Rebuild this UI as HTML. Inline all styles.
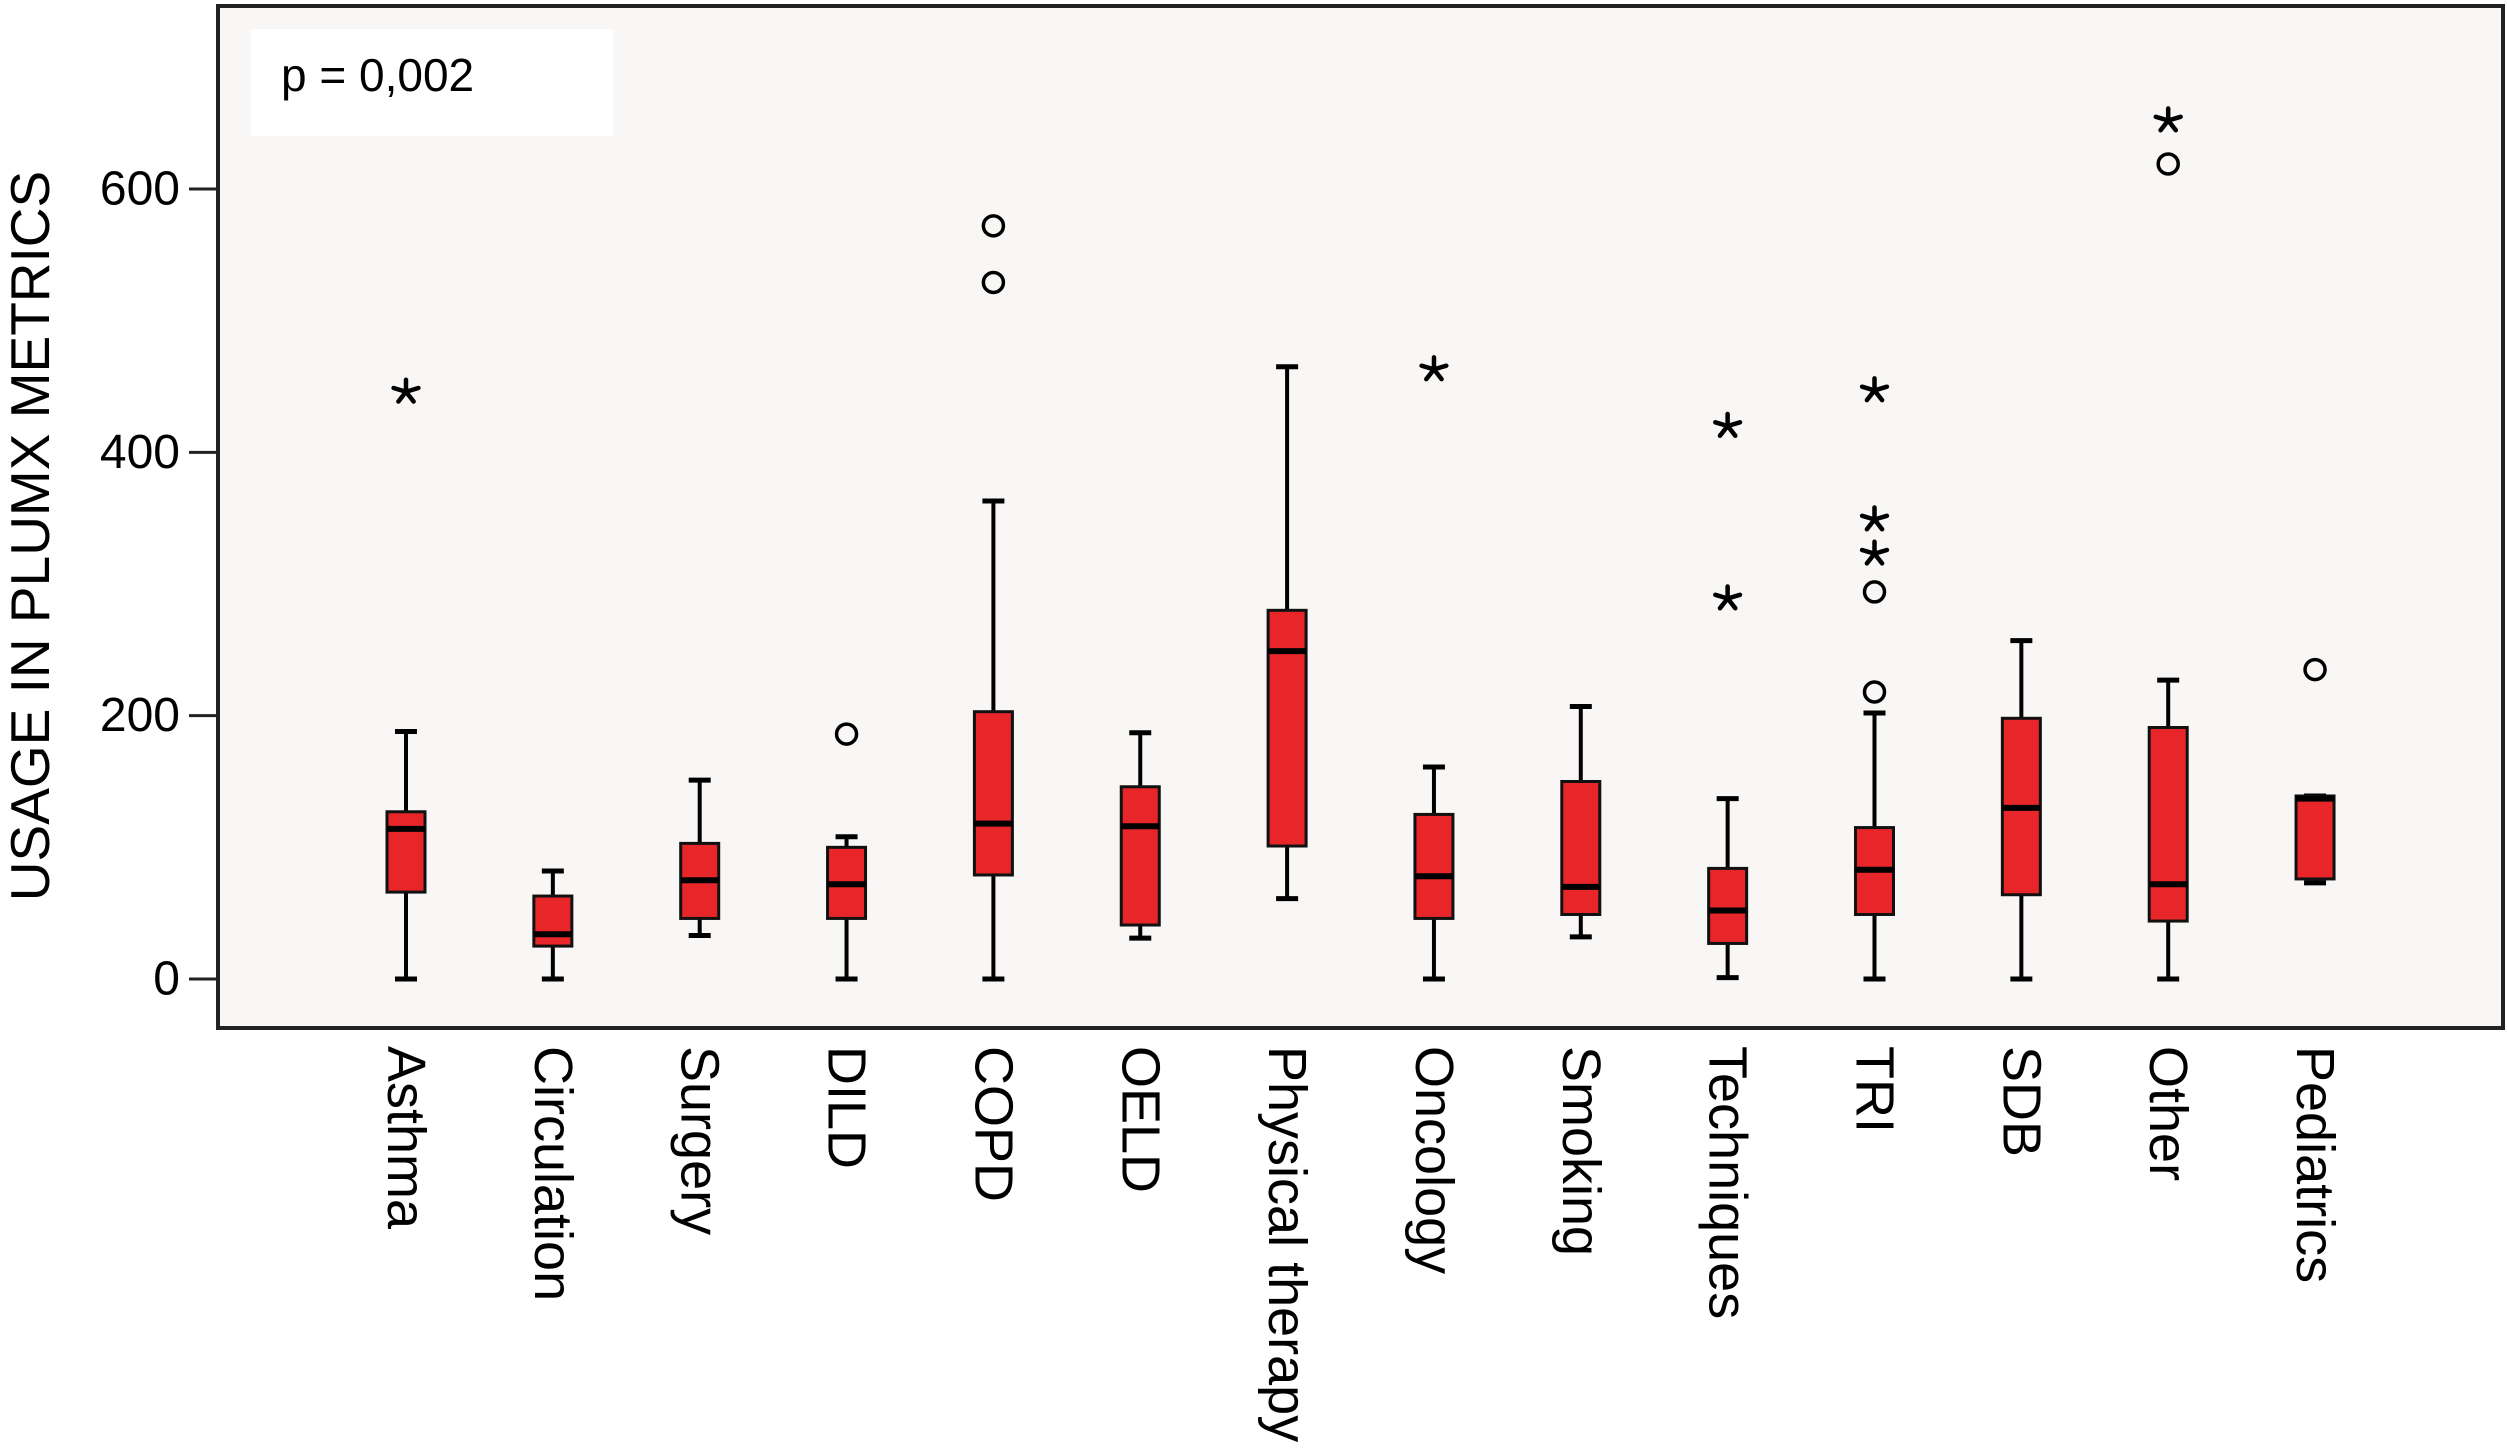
<!DOCTYPE html>
<html><head><meta charset="utf-8"><style>
html,body{margin:0;padding:0;background:#fff;}
svg{display:block;font-family:"Liberation Sans",Arial,sans-serif;}
</style></head><body>
<svg id="chart" width="2507" height="1450" viewBox="0 0 2507 1450">
  <rect x="218" y="6" width="2285" height="1022" fill="#f8f7f5" stroke="#222" stroke-width="4"/>
  <rect x="251" y="29" width="362" height="107" fill="#ffffff"/>
  <text x="281" y="75" font-size="46" dominant-baseline="central" fill="#000">p = 0,002</text>
  <text transform="translate(30,536) rotate(-90)" text-anchor="middle" font-size="55" dominant-baseline="central" fill="#000">USAGE IN PLUMX METRICS</text>
  <g id="yaxis"></g>
  <g id="boxes"></g>
  <g id="xlabels"></g>
</svg>
<script>
const categories = ["Asthma","Circulation","Surgery","DILD","COPD","OELD","Physical therapy","Oncology","Smoking","Techniques","TRI","SDB","Other","Pediatrics"];
const whiskerLow  = [0, 0, 33, 0, 0, 31, 61, 0, 32, 1, 0, 0, 0, 73];
const q1Values    = [66, 25, 46, 46, 79, 41, 101, 46, 49, 27, 49, 64, 44, 76];
const medianValues= [114, 34, 75, 72, 118, 116, 249, 78, 70, 52, 83, 130, 72, 137];
const q3Values    = [127, 63, 103, 100, 203, 146, 280, 125, 150, 84, 115, 198, 191, 139];
const whiskerHigh = [188, 82, 151, 108, 363, 187, 465, 161, 207, 137, 202, 257, 227, 139];
const circleOutliers = [[], [], [], [186], [572, 529], [], [], [], [], [], [294, 218], [], [619], [235]];
const starOutliers   = [[446], [], [], [], [], [], [], [463], [], [420, 289], [447, 349, 323], [], [652], []];
const yTicks = [0, 200, 400, 600];
const yTickLabels = ["0", "200", "400", "600"];

const NS = "http://www.w3.org/2000/svg";
const y = v => 979 - v * 1.3167;
const x = i => 406 + i * 146.85;
function mk(tag, attrs, parent){const e=document.createElementNS(NS,tag);for(const k in attrs)e.setAttribute(k,attrs[k]);parent.appendChild(e);return e;}

const ya = document.getElementById('yaxis');
yTicks.forEach((t,i)=>{
  const ln = mk('line',{x1:189,x2:218,y1:y(t),y2:y(t),stroke:'#222','stroke-width':3},ya);
  
  
  const tx = mk('text',{x:180,y:y(t),'text-anchor':'end','dominant-baseline':'central','font-size':48},ya);
  tx.textContent = yTickLabels[i];
  
  
});

function starPath(cx, cy){
  let d = '';
  for(let k=0;k<5;k++){
    const a = -Math.PI/2 + k*2*Math.PI/5;
    d += `M${cx},${cy}L${(cx+13*Math.cos(a)).toFixed(1)},${(cy+12*Math.sin(a)).toFixed(1)}`;
  }
  return d;
}

const bg = document.getElementById('boxes');
const bw = 38, cw = 22;
categories.forEach((c,i)=>{
  const cx = x(i);
  const g = mk('g',{},bg);
  
  
  mk('line',{x1:cx,x2:cx,y1:y(whiskerHigh[i]),y2:y(whiskerLow[i]),stroke:'#000','stroke-width':4},g);
  mk('line',{x1:cx-cw/2,x2:cx+cw/2,y1:y(whiskerHigh[i]),y2:y(whiskerHigh[i]),stroke:'#000','stroke-width':5},g);
  mk('line',{x1:cx-cw/2,x2:cx+cw/2,y1:y(whiskerLow[i]),y2:y(whiskerLow[i]),stroke:'#000','stroke-width':5},g);
  mk('rect',{x:cx-bw/2,y:y(q3Values[i]),width:bw,height:y(q1Values[i])-y(q3Values[i]),fill:'#e8262a',stroke:'#111','stroke-width':3},g);
  mk('line',{x1:cx-bw/2,x2:cx+bw/2,y1:y(medianValues[i]),y2:y(medianValues[i]),stroke:'#000','stroke-width':6},g);
  circleOutliers[i].forEach(v=>{
    const o = mk('circle',{cx:cx,cy:y(v),r:10,fill:'none',stroke:'#000','stroke-width':3.5},g);
    
    
  });
  starOutliers[i].forEach(v=>{
    const s = mk('path',{d:starPath(cx,y(v)),stroke:'#000','stroke-width':4.5,'stroke-linecap':'round',fill:'none'},g);
    
    
  });
});

const xl = document.getElementById('xlabels');
categories.forEach((c,i)=>{
  const t = mk('text',{transform:`translate(${x(i)},1046) rotate(90)`,'dominant-baseline':'central','font-size':54},xl);
  t.textContent = c;
  
  
});
</script>
</body></html>
